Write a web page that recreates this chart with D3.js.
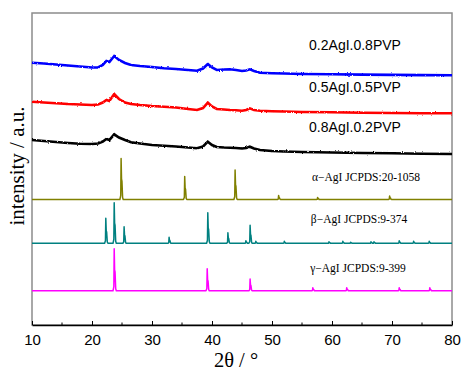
<!DOCTYPE html>
<html><head><meta charset="utf-8">
<script src="https://cdn.jsdelivr.net/npm/d3@7"></script>
<style>
html,body{margin:0;padding:0;background:#fff;}
svg{display:block;}
</style></head>
<body>
<svg id="chart" width="462" height="371"></svg>
<script>
// ---- data (2θ in degrees, stacked intensity in a.u.) ----
const xTicks = [10, 20, 30, 40, 50, 60, 70, 80];
const xMinorTicks = [15, 25, 35, 45, 55, 65, 75];

const sampleLabels = ["0.2AgI.0.8PVP", "0.5AgI.0.5PVP", "0.8AgI.0.2PVP"];
const sampleColors = ["#0000ff", "#ff0000", "#000000"];

const blue = [[10,262.3],[12,261.5],[14,260.5],[16,259.5],[18,258.5],[20,257.5],[21,257.5],[21.8,260],[22.4,264],[22.9,263],[23.7,269],[24.5,265],[25.5,262],[26.5,260],[28,259],[30,258],[32,256.7],[34,256],[36,255],[37.5,254.3],[38.5,256.5],[39.3,261],[40,257.5],[40.8,255],[42,255.5],[43,255.7],[44,255],[45,254],[45.7,254.5],[46.3,255.7],[47,254],[48,252.3],[50,251.8],[52,251.5],[55,251],[60,250.7],[65,250.4],[70,250.1],[75,249.9],[80,249.7]];
const red = [[10,223.3],[12,222.5],[14,221.8],[16,221],[18,220.5],[20,220],[21,220.5],[21.8,222.5],[22.4,225],[22.9,224],[23.7,231],[24.5,226],[25.5,222.5],[26.5,221],[28,220],[30,219],[32,218.3],[34,217.5],[36,216],[37.5,215],[38.5,217],[39.3,222.3],[40,218.5],[40.8,216],[42,215.5],[43,215],[44,214.7],[45,214.3],[45.7,215],[46.3,216.7],[47,215],[48,214.3],[50,213.8],[52,213.5],[55,213],[60,212.7],[65,212.3],[70,212],[75,211.8],[80,211.7]];
const black = [[10,185],[12,184],[14,183],[16,182],[18,181.2],[20,181],[21,181.5],[21.8,183.5],[22.4,186],[22.9,185],[23.7,190.7],[24.5,187.5],[25.5,185],[26.5,182.7],[28,181.5],[30,180],[32,179.3],[34,178.5],[36,177.5],[37.5,176.7],[38.5,178.5],[39.3,183.3],[40,180],[40.8,178],[42,177.5],[43,177.3],[44,177],[45,176.5],[45.7,177],[46.3,178.3],[47,176.5],[48,175],[50,174],[52,173.5],[55,173],[60,172.5],[65,172],[70,171.7],[75,171.3],[80,171]];

const refLabels = ["\u03b1\u2212AgI JCPDS:20-1058", "\u03b2\u2212AgI JCPDS:9-374", "\u03b3\u2212AgI JCPDS:9-399"];
const refColors = ["#808000", "#008080", "#ff00ff"];
const refBaselines = [125.5, 81.7, 34.2];
const alphaPeaks = [[24.85,41],[35.45,23],[43.85,29.5],[51.1,4],[57.6,2],[69.6,3.5]];
const betaPeaks = [[22.3,25],[23.7,40.5],[25.35,16.6],[32.85,6],[39.3,30.6],[42.65,10.6],[45.65,2.6],[46.35,18],[47.3,2],[52.05,2],[59.5,1.5],[61.8,2],[63.1,1],[66.5,1.5],[67.0,1.5],[71.2,2.5],[73.6,2],[76.2,2]];
const gammaPeaks = [[23.7,42],[39.2,22],[46.35,11.7],[56.8,3],[62.45,3],[71.2,3],[76.3,3]];

// ---- layout ----
const svg = d3.select("#chart");
const L = 32, R = 452, T = 13, B = 325;
const x = d3.scaleLinear().domain([10, 80]).range([L, R]);
const y = d3.scaleLinear().domain([0, 312]).range([B, T]);

// texture filter for the noisy measured traces
const defs = svg.append("defs");
const f = defs.append("filter").attr("id", "rough").attr("x", "-5%").attr("y", "-50%").attr("width", "110%").attr("height", "200%");
f.append("feTurbulence").attr("type", "fractalNoise").attr("baseFrequency", "1.2 0.8").attr("numOctaves", 2).attr("seed", 3).attr("result", "n");
f.append("feDisplacementMap").attr("in", "SourceGraphic").attr("in2", "n").attr("scale", 2.2)
  .attr("xChannelSelector", "R").attr("yChannelSelector", "G");

// frame
svg.append("rect").attr("x", L).attr("y", T).attr("width", R - L).attr("height", B - T)
  .attr("fill", "none").attr("stroke", "#8c8c8c").attr("stroke-width", 1.5);

const line = d3.line().x(d => x(d[0])).y(d => y(d[1]));
const g = svg.append("g");

// reference patterns
function refPoints(peaks, base) {
  const pts = [[10, base]];
  peaks.forEach(([p, h]) => {
    pts.push([p - 0.2, base]);
    pts.push([p - 0.06, base + h * 0.1]);
    pts.push([p, base + h]);
    pts.push([p + 0.07, base + h * 0.5]);
    pts.push([p + 0.14, base + h * 0.45]);
    pts.push([p + 0.25, base + h * 0.05]);
    pts.push([p + 0.35, base]);
  });
  pts.push([80, base]);
  return pts;
}
[alphaPeaks, betaPeaks, gammaPeaks].forEach((pk, i) => {
  g.append("path").attr("d", line(refPoints(pk, refBaselines[i])))
    .attr("fill", "none").attr("stroke", refColors[i]).attr("stroke-width", 1.5)
    .attr("stroke-linejoin", "round");
});

// sample traces
[blue, red, black].forEach((s, i) => {
  g.append("path").attr("d", line(s))
    .attr("fill", "none").attr("stroke", sampleColors[i]).attr("stroke-width", 2.6)
    .attr("stroke-linejoin", "miter").attr("filter", "url(#rough)");
});

// bottom axis
const axis = d3.axisBottom(x).tickValues(xTicks).tickSize(0).tickPadding(0).tickFormat(d3.format("d"));
const ax = svg.append("g").attr("transform", `translate(0,${B})`).call(axis);
ax.select(".domain").attr("stroke", "#000").attr("stroke-width", 1.3);
ax.selectAll("text").attr("font-family", "Liberation Sans, Arial, sans-serif")
  .attr("font-size", 15).attr("fill", "#000").attr("dy", null).attr("y", 20);
ax.selectAll(".tick").each(function () {
  d3.select(this).append("line").attr("y1", 0).attr("y2", -4).attr("stroke", "#000").attr("stroke-width", 1);
});
svg.append("g").selectAll("line").data(xMinorTicks).join("line")
  .attr("x1", d => x(d)).attr("x2", d => x(d)).attr("y1", B).attr("y2", B - 2.5)
  .attr("stroke", "#000").attr("stroke-width", 1);

// axis titles
svg.append("text").attr("x", 236).attr("y", 366.5).attr("text-anchor", "middle")
  .attr("font-family", "Liberation Serif, Times New Roman, serif").attr("font-size", 20.5)
  .text("2\u03b8 / \u00b0");
svg.append("text").attr("transform", "translate(24,166) rotate(-90)").attr("text-anchor", "middle")
  .attr("font-family", "Liberation Serif, Times New Roman, serif").attr("font-size", 21)
  .text("intensity / a.u.");

// series labels
const sampleLabelY = [50, 92, 132];
sampleLabels.forEach((t, i) => {
  svg.append("text").attr("x", 355).attr("y", sampleLabelY[i]).attr("text-anchor", "middle")
    .attr("font-family", "Liberation Sans, Arial, sans-serif").attr("font-size", 14).text(t);
});
const refLabelX = [366, 359, 358];
const refLabelY = [181, 223, 272];
refLabels.forEach((t, i) => {
  svg.append("text").attr("x", refLabelX[i]).attr("y", refLabelY[i]).attr("text-anchor", "middle")
    .attr("font-family", "Liberation Serif, Times New Roman, serif").attr("font-size", 11.5).text(t);
});
</script>
</body></html>
